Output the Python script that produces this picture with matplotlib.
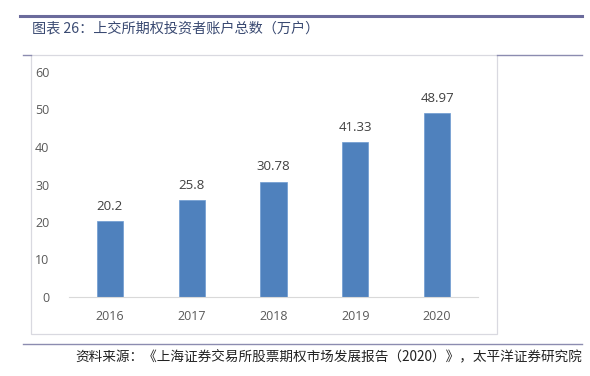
import matplotlib.pyplot as plt
import matplotlib as mpl
from matplotlib.lines import Line2D
from matplotlib.patches import Rectangle

mpl.rcParams['font.family'] = ['Open Sans', 'Noto Sans CJK SC', 'DejaVu Sans']

# 数据
years = ['2016', '2017', '2018', '2019', '2020']
accounts = [20.2, 25.8, 30.78, 41.33, 48.97]
value_labels = ['20.2', '25.8', '30.78', '41.33', '48.97']

W, H = 590, 376
fig = plt.figure(figsize=(W / 100, H / 100), dpi=100)

def fx(px):
    return px / W

def fy(py):
    return 1 - py / H

# 外框装饰线
fig.add_artist(Line2D([fx(20), fx(582)], [fy(16), fy(16)], color='#6b6b9c', lw=2.2))
fig.add_artist(Rectangle((fx(31), fy(334)), fx(497) - fx(31), fy(55) - fy(334),
                         fill=False, edgecolor='#d9d9e0', lw=0.9))
fig.add_artist(Line2D([fx(23), fx(31)], [fy(55), fy(55)], color='#8c8cb0', lw=1.0))
fig.add_artist(Line2D([fx(497), fx(582)], [fy(55), fy(55)], color='#8c8cb0', lw=1.0))
fig.add_artist(Line2D([fx(23), fx(582)], [fy(344), fy(344)], color='#8c8cb0', lw=1.0))

# 标题与来源
fig.text(fx(32), fy(28), '图表 26：上交所期权投资者账户总数（万户）',
         family=['Noto Sans CJK SC', 'DejaVu Sans'], fontsize=10.2,
         color='#3a4a72', va='center', ha='left')
fig.text(fx(582), fy(356), '资料来源：《上海证券交易所股票期权市场发展报告（2020）》，太平洋证券研究院',
         family=['Noto Sans CJK SC', 'DejaVu Sans'], fontsize=9.8, style='italic',
         color='#222222', va='center', ha='right')

# 主图
ax = fig.add_axes([fx(69), fy(297), fx(478) - fx(69), fy(72) - fy(297)])
x = range(len(years))
bars = ax.bar(x, accounts, width=0.32, color='#4f81bd', edgecolor='#6d9bd1', lw=0.5)
for xi, v, lab in zip(x, accounts, value_labels):
    ax.text(xi, v + 2.2, lab, ha='center', va='bottom', fontsize=9.5, color='#404040')

ax.set_xlim(-0.5, 4.5)
ax.set_ylim(0, 60)
ax.set_yticks(range(0, 61, 10))
ax.set_xticks(list(x))
ax.set_xticklabels(years)
for s in ['top', 'right', 'left']:
    ax.spines[s].set_visible(False)
ax.spines['bottom'].set_color('#d9d9d9')
ax.tick_params(axis='both', length=0, labelsize=9, labelcolor='#595959')
ax.tick_params(axis='y', pad=14)
ax.tick_params(axis='x', pad=9)

plt.savefig('out.png', dpi=100)
